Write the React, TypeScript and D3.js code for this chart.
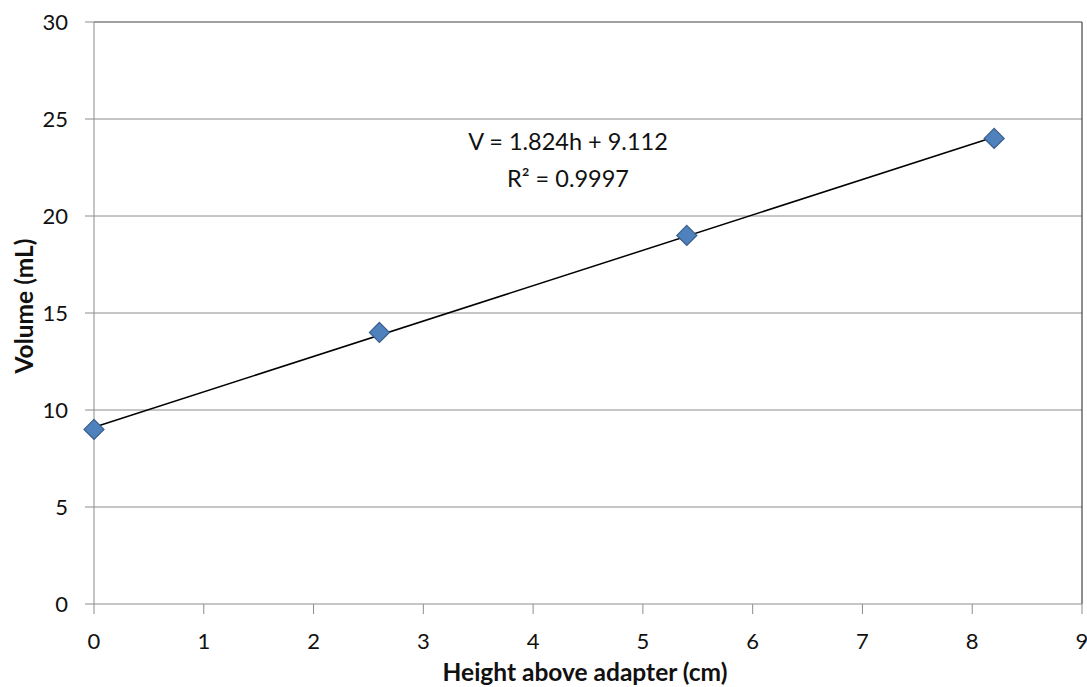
import React from "react";
import * as d3 from "d3";

const heights = [0, 2.6, 5.4, 8.2];
const volumes = [9, 14, 19, 24];
const xTicks = [0, 1, 2, 3, 4, 5, 6, 7, 8, 9];
const yTicks = [0, 5, 10, 15, 20, 25, 30];
const slope = 1.824;
const intercept = 9.112;
const eqLine1 = "V = 1.824h + 9.112";
const eqLine2 = "R² = 0.9997";

const W = 1087, H = 687;
const left = 94, right = 1082, top = 22, bottom = 604;
const font = "Lato, 'Open Sans', sans-serif";

export default function App() {
  const x = d3.scaleLinear().domain([0, 9]).range([left, right]);
  const y = d3.scaleLinear().domain([0, 30]).range([bottom, top]);
  const trend = d3.line<number>().x(h => x(h)).y(h => y(slope * h + intercept));
  const diamond = (cx: number, cy: number, r: number) =>
    `M${cx},${cy - r}L${cx + r},${cy}L${cx},${cy + r}L${cx - r},${cy}Z`;
  return (
    <svg width={W} height={H} style={{ position: "absolute", left: 0, top: 0, background: "#fff" }} fontFamily={font}>
      <rect x={0} y={0} width={W} height={H} fill="#fff" />
      {yTicks.map(t => (
        <g key={"y" + t}>
          {t > 0 && t < 30 && <line x1={left} x2={right} y1={y(t)} y2={y(t)} stroke="#8c8c8c" strokeWidth={1} />}
          <line x1={85} x2={left} y1={y(t)} y2={y(t)} stroke="#8c8c8c" strokeWidth={1} />
          <text x={68} y={y(t)} dy="0.35em" textAnchor="end" fontSize={22} fill="#111">{t}</text>
        </g>
      ))}
      {xTicks.map(t => (
        <g key={"x" + t}>
          <line x1={x(t)} x2={x(t)} y1={bottom} y2={614} stroke="#8c8c8c" strokeWidth={1} />
          <text x={x(t)} y={641} dy="0.35em" textAnchor="middle" fontSize={22} fill="#111">{t}</text>
        </g>
      ))}
      <line x1={left} x2={right} y1={top} y2={top} stroke="#444" strokeWidth={1.2} />
      <line x1={right} x2={right} y1={top} y2={bottom} stroke="#444" strokeWidth={1.2} />
      <line x1={left} x2={left} y1={top} y2={bottom} stroke="#8c8c8c" strokeWidth={1} />
      <line x1={left} x2={right} y1={bottom} y2={bottom} stroke="#8c8c8c" strokeWidth={1} />
      <path d={trend([heights[0], heights[heights.length - 1]]) || ""} stroke="#000" strokeWidth={1.5} fill="none" />
      {heights.map((h, i) => (
        <path key={i} d={diamond(x(h), y(volumes[i]), 10)} fill="#4F81BD" stroke="#385D8A" strokeWidth={1.2} />
      ))}
      <text x={568} y={142} dy="0.35em" textAnchor="middle" fontSize={23.5} fill="#111">{eqLine1}</text>
      <text x={568} y={179} dy="0.35em" textAnchor="middle" fontSize={23.5} fill="#111">{eqLine2}</text>
      <text x={585} y={681} textAnchor="middle" fontSize={24.5} fontWeight="bold" fill="#111">Height above adapter (cm)</text>
      <text transform={`translate(24,306) rotate(-90)`} dy="0.35em" textAnchor="middle" fontSize={24.5} fontWeight="bold" fill="#111">Volume (mL)</text>
    </svg>
  );
}
